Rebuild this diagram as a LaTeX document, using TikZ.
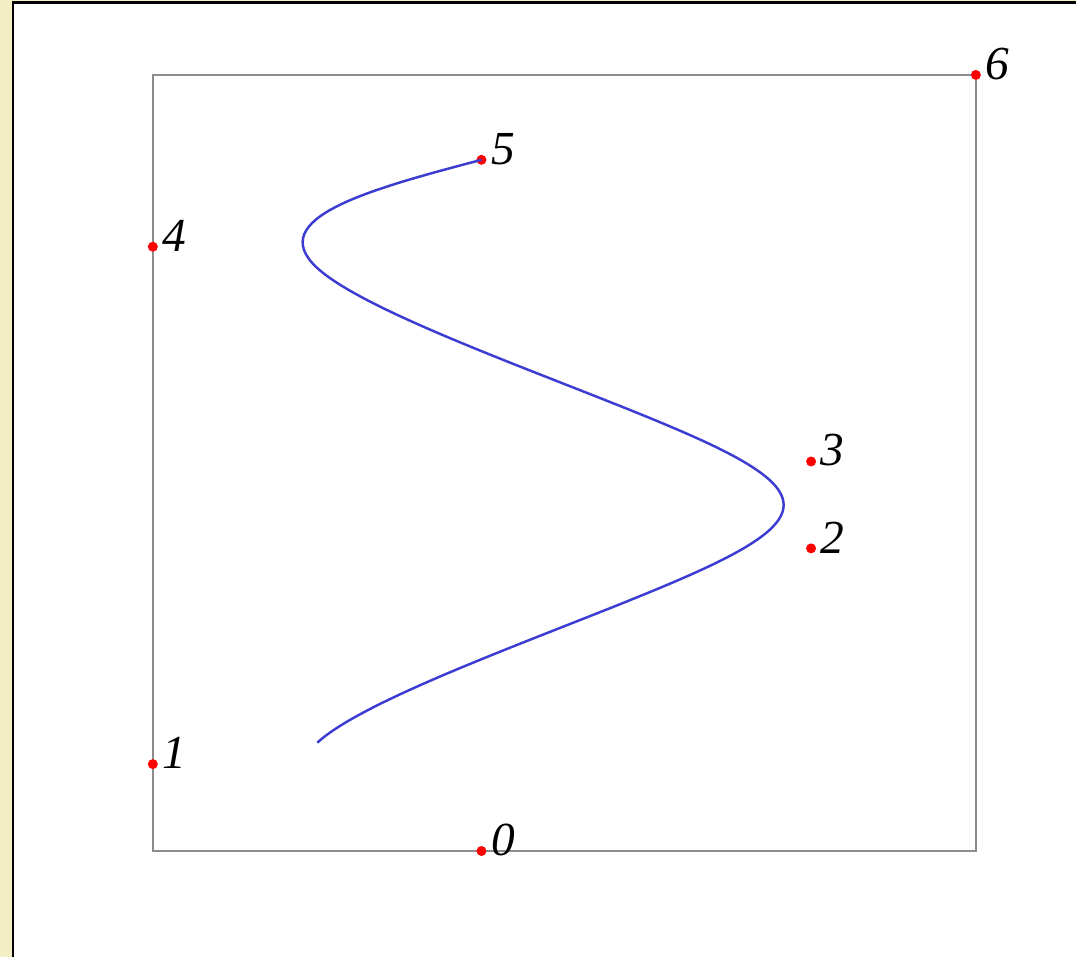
\documentclass[tikz,border=0pt]{standalone}
\usepackage{fontspec}
\setmainfont{Liberation Serif}
\usepackage{tikz}
\usetikzlibrary{calc}
\definecolor{paper}{HTML}{F3EEC4}
\definecolor{frame}{HTML}{8C8C8C}
\definecolor{curve}{HTML}{3C3CD2}

\begin{document}
\begin{tikzpicture}
	 \tikzstyle{dot}=[circle,fill=red,minimum size=0.1cm,inner sep=0pt]
	 \tikzstyle{lbl}=[font=\fontsize{13.5}{15}\selectfont\itshape,inner sep=1pt,yshift=0.11cm]
	 \tikzstyle{edge} = [draw,line width=0.6pt,frame]
	 \tikzstyle{spline} = [draw,line width=0.7pt,curve]
	 % background
	 \fill[paper] (0,0) rectangle (10.77,9.58);
	 \fill[white] (0.13,0) rectangle (10.77,9.555);
	 \draw[black,line width=0.7pt] (0.13,0) -- (0.13,9.555) -- (10.77,9.555);
	 \useasboundingbox (0,0) rectangle (10.77,9.58);

	 \draw[edge] (1.53,1.06) rectangle (9.77,8.83);

	 \node[dot,label={[lbl]right:0}] (p0) at (4.82,1.06) {};
	 \node[dot,label={[lbl]right:1}] (p1) at (1.53,1.93) {};
	 \node[dot,label={[lbl]right:2}] (p2) at (8.12,4.09) {};
	 \node[dot,label={[lbl]right:3}] (p3) at (8.12,4.96) {};
	 \node[dot,label={[lbl]right:4}] (p4) at (1.53,7.11) {};
	 \node[dot,label={[lbl]right:5}] (p5) at (4.82,7.98) {};
	 \node[dot,label={[lbl]right:6}] (p6) at (9.77,8.83) {};

	 % cubic B-spline through the control points
	 \draw[spline] ($1/6*(p0.center)+2/3*(p1.center)+1/6*(p2.center)$)
	   .. controls ($(p1.center)!1/3!(p2.center)$) and ($(p1.center)!2/3!(p2.center)$)
	   .. ($1/6*(p1.center)+2/3*(p2.center)+1/6*(p3.center)$)
	   .. controls ($(p2.center)!1/3!(p3.center)$) and ($(p2.center)!2/3!(p3.center)$)
	   .. ($1/6*(p2.center)+2/3*(p3.center)+1/6*(p4.center)$)
	   .. controls ($(p3.center)!1/3!(p4.center)$) and ($(p3.center)!2/3!(p4.center)$)
	   .. ($1/6*(p3.center)+2/3*(p4.center)+1/6*(p5.center)$)
	   .. controls ($(p4.center)!1/3!(p5.center)$) and ($(p4.center)!2/3!(p5.center)$)
	   .. (p5.center);
 \end{tikzpicture}
\end{document}
